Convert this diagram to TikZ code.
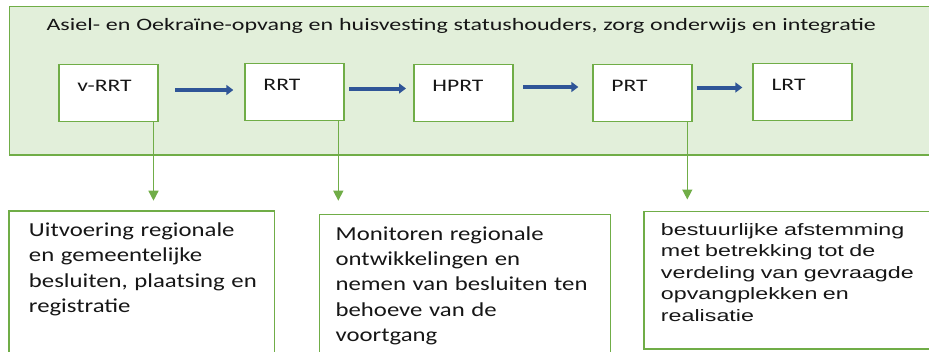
\documentclass[tikz,border=0pt]{standalone}
\usepackage{fontspec}
\usetikzlibrary{arrows.meta}
\setmainfont{Carlito}
\newfontfamily\titlefont[FakeStretch=1.38]{Carlito}
\newfontfamily\stagefont[FakeStretch=1.34]{Carlito}
\newfontfamily\notefont[FakeStretch=1.25]{Carlito}
\newfontfamily\arialfont[FakeStretch=1.41]{Liberation Sans}
\definecolor{leaf}{RGB}{112,173,71}
\definecolor{leaflight}{RGB}{226,239,218}
\definecolor{flowblue}{RGB}{47,85,151}
\definecolor{ink}{RGB}{22,22,22}
\hyphenpenalty=10000
\begin{document}
\begin{tikzpicture}[x=1pt,y=-1pt,
    every node/.style={text=ink, inner ysep=0pt, align=left, anchor=base west},
    panel/.style={draw=leaf, line width=1.3pt, fill=leaflight, inner xsep=37pt,
      text width=900pt, text height=23.3pt, text depth=125pt,
      font=\titlefont\fontsize{17.4}{21}\selectfont},
    stage/.style={draw=leaf, line width=1.3pt, fill=white, inner xsep=18.5pt,
      text width=62pt, text height=26.7pt, text depth=30.7pt,
      font=\stagefont\fontsize{17.6}{21}\selectfont},
    note/.style={draw=leaf, line width=1.3pt, fill=white,
      font=\notefont\fontsize{19.8}{25.3}\selectfont},
    flow/.style={flowblue, line width=4pt, -{Triangle[width=10pt,length=7pt]}},
    drop/.style={leaf, line width=1.5pt, -{Triangle[width=10pt,length=10pt]}}]
  \useasboundingbox (0,0) rectangle (929,351);
  \clip (0,0) rectangle (929,351);
  \draw
    (8.9,30) node[panel] (frame){Asiel- en Oekraïne-opvang en huisvesting statushouders, zorg onderwijs en integratie}
    (58.3,91) node[stage] (vrrt){v-RRT}
    (244.3,90) node[stage] (rrt){RRT}
    (413.3,91) node[stage] (hprt){HPRT}
    (592.3,91) node[stage] (prt){PRT}
    (752.4,90) node[stage] (lrt){LRT}
    (8.3,236.5) node[note, inner xsep=20pt, text width=225.7pt,
      text height=25.5pt, text depth=143.5pt] (uitvoering)
      {Uitvoering regionale\\en gemeentelijke\\besluiten,~plaatsing~en\\registratie}
    (318.7,240.3) node[note, inner xsep=16.3pt, text width=258.2pt,
      text height=26pt, text depth=140pt] (monitoren)
      {Monitoren regionale\\ontwikkelingen en\\nemen~van~besluiten~ten\\behoeve van de\\voortgang}
    (643.3,235) node[note, inner xsep=17pt, text width=300pt,
      text height=23.3pt, text depth=114pt, font=\arialfont\fontsize{16.5}{21.5}\selectfont] (afstemming)
      {bestuurlijke afstemming\\met betrekking tot de\\verdeling van gevraagde\\opvangplekken en\\realisatie};
  \coordinate (d1) at (153.5,200.7);
  \coordinate (d2) at (338.3,200.7);
  \coordinate (d3) at (687.3,199.5);
  \begin{scope}[flow]
    \draw[shorten <=16.7pt, shorten >=11pt] ([yshift=3pt]vrrt.east) to ([yshift=3pt]vrrt.east -| rrt.west);
    \draw[shorten <=4.4pt, shorten >=7.3pt] ([yshift=3.5pt]rrt.east) to ([yshift=3.5pt]rrt.east -| hprt.west);
    \draw[shorten <=9.4pt, shorten >=14pt] ([yshift=6pt]hprt.east) to ([yshift=6pt]hprt.east -| prt.west);
    \draw[shorten <=4pt, shorten >=10.1pt] ([yshift=5.5pt]prt.east) to ([yshift=5.5pt]prt.east -| lrt.west);
  \end{scope}
  \begin{scope}[drop]
    \draw (d1 |- vrrt.south) to (d1);
    \draw (d2 |- rrt.south) to (d2);
    \draw (d3 |- prt.south) to (d3);
  \end{scope}
\end{tikzpicture}
\end{document}
